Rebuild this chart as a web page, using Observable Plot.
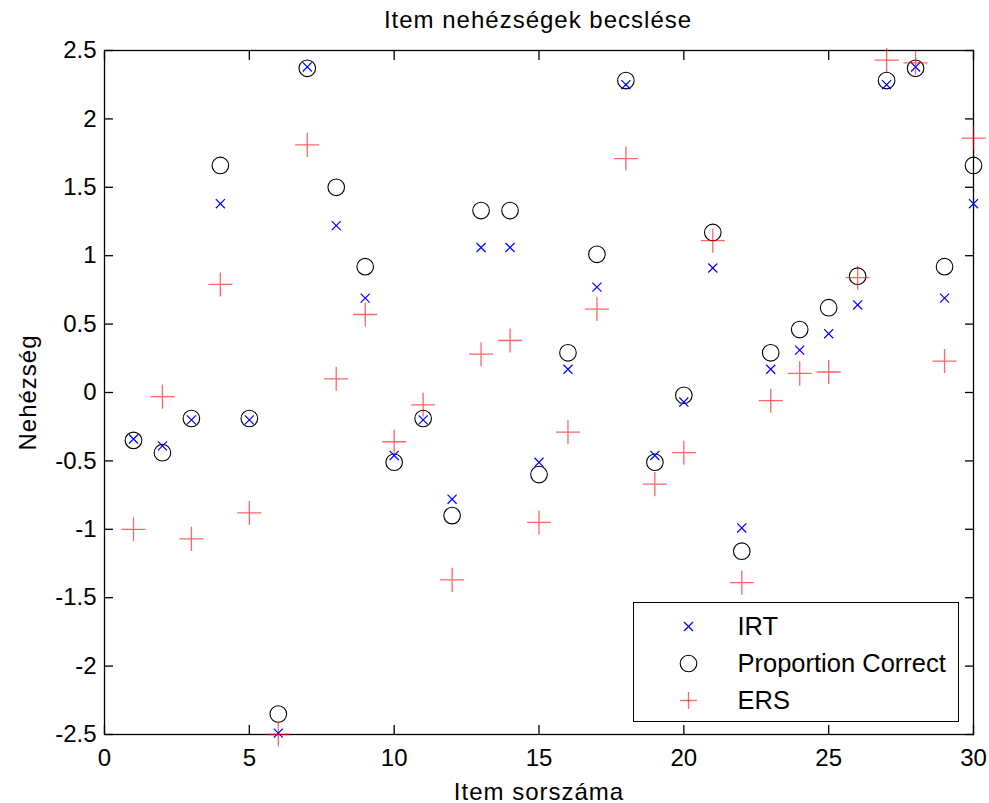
<!DOCTYPE html>
<html><head><meta charset="utf-8">
<script src="https://cdn.jsdelivr.net/npm/d3@7"></script>
<script src="https://cdn.jsdelivr.net/npm/@observablehq/plot@0.6"></script>
<style>
body{margin:0;background:#fff;font-family:Arial,"Liberation Sans",sans-serif}
#wrap{position:relative;width:989px;height:803px;background:#fff}
#title{height:25px;width:989px;position:relative;z-index:2}
#title span{position:absolute;left:538px;top:7.7px;transform:translateX(-50%);font-size:24px;line-height:1;letter-spacing:1px;white-space:nowrap;color:#000}
#chart{position:relative;z-index:1}
#legend{position:absolute;left:633px;top:602px;width:324px;height:118px;border:1.5px solid #000;background:#fff;z-index:3}
#legend svg{position:absolute;left:0;top:0}
#legend span{position:absolute;left:103.5px;font-size:25.5px;line-height:1;color:#000;white-space:nowrap}
#chart svg g[aria-label="x-axis label"] text, #chart svg g[aria-label="y-axis label"] text{letter-spacing:1px}
</style></head><body>
<div id="wrap">
<div id="title"><span>Item nehézségek becslése</span></div>
<div id="chart"></div>
<div id="legend"></div>
</div>
<script>
const items = [1,2,3,4,5,6,7,8,9,10,11,12,13,14,15,16,17,18,19,20,21,22,23,24,25,26,27,28,29,30];
const irt = [-0.34,-0.39,-0.20,1.38,-0.20,-2.49,2.38,1.22,0.69,-0.46,-0.20,-0.78,1.06,1.06,-0.51,0.17,0.77,2.25,-0.46,-0.07,0.91,-0.99,0.17,0.31,0.43,0.64,2.25,2.38,0.69,1.38];
const propCorrect = [-0.35,-0.44,-0.19,1.66,-0.19,-2.35,2.37,1.50,0.92,-0.51,-0.19,-0.90,1.33,1.33,-0.60,0.29,1.01,2.28,-0.51,-0.02,1.17,-1.16,0.29,0.46,0.62,0.85,2.28,2.37,0.92,1.66];
const ers = [-1.00,-0.03,-1.07,0.79,-0.88,-2.50,1.81,0.10,0.57,-0.36,-0.09,-1.37,0.28,0.38,-0.95,-0.29,0.61,1.71,-0.67,-0.44,1.11,-1.39,-0.06,0.14,0.15,0.84,2.43,2.41,0.23,1.86];
const xTicks = [0,5,10,15,20,25,30];
const yTicks = [-2.5,-2,-1.5,-1,-0.5,0,0.5,1,1.5,2,2.5];
const seriesNames = ["IRT","Proportion Correct","ERS"];

const rows = items.map((it,i)=>({item:it, irt:irt[i], pc:propCorrect[i], ers:ers[i]}));
const fmt = d => String(d);

const chart = Plot.plot({
  width: 989,
  height: 778,
  marginLeft: 104,
  marginRight: 16,
  marginTop: 25,
  marginBottom: 69,
  style: {fontFamily: "Arial, 'Liberation Sans', sans-serif", fontSize: "24px", color: "#000", background: "transparent"},
  x: {domain: [0, 30]},
  y: {domain: [-2.5, 2.5]},
  marks: [
    Plot.frame({stroke: "#000", strokeWidth: 1.3}),
    Plot.axisX(xTicks, {anchor: "bottom", tickSize: 0, tickPadding: 14, tickFormat: fmt, fontSize: 24, label: "Item sorszáma", labelAnchor: "center", labelOffset: 65, labelArrow: "none"}),
    Plot.axisX(xTicks, {anchor: "bottom", tickSize: -9, tickFormat: () => "", label: null, strokeWidth: 1.3}),
    Plot.axisX(xTicks, {anchor: "top", tickSize: -9, tickFormat: () => "", label: null, strokeWidth: 1.3}),
    Plot.axisY(yTicks, {anchor: "left", tickSize: 0, tickPadding: 8, tickFormat: fmt, fontSize: 24, label: "Nehézség", labelAnchor: "center", labelOffset: 86, labelArrow: "none"}),
    Plot.axisY(yTicks, {anchor: "left", tickSize: -9, tickFormat: () => "", label: null, strokeWidth: 1.3}),
    Plot.axisY(yTicks, {anchor: "right", tickSize: -9, tickFormat: () => "", label: null, strokeWidth: 1.3}),
    Plot.dot(rows, {x: "item", y: "pc", symbol: "circle", r: 8.3, stroke: "#000", fill: "none", strokeWidth: 1.1}),
    Plot.dot(rows, {x: "item", y: "irt", symbol: "times", r: 4.2, stroke: "#0000ff", strokeWidth: 1.2}),
    Plot.dot(rows, {x: "item", y: "ers", symbol: "plus", r: 7.8, stroke: "#ff0000", strokeOpacity: 0.6, strokeWidth: 1.3})
  ]
});
document.getElementById("chart").appendChild(chart);

// legend
const legend = document.getElementById("legend");
const cx = 54.5, ys = [23.5, 60.5, 97.5];
legend.innerHTML =
  `<svg width="324" height="118">
    <line x1="${cx-4.5}" y1="${ys[0]-4.5}" x2="${cx+4.5}" y2="${ys[0]+4.5}" stroke="#0000ff" stroke-width="1.2"/>
    <line x1="${cx-4.5}" y1="${ys[0]+4.5}" x2="${cx+4.5}" y2="${ys[0]-4.5}" stroke="#0000ff" stroke-width="1.2"/>
    <circle cx="${cx}" cy="${ys[1]}" r="8.3" fill="none" stroke="#000" stroke-width="1.1"/>
    <line x1="${cx-8.5}" y1="${ys[2]}" x2="${cx+8.5}" y2="${ys[2]}" stroke="#ff0000" stroke-opacity="0.6" stroke-width="1.3"/>
    <line x1="${cx}" y1="${ys[2]-8.5}" x2="${cx}" y2="${ys[2]+8.5}" stroke="#ff0000" stroke-opacity="0.6" stroke-width="1.3"/>
  </svg>` +
  seriesNames.map((n, i) => `<span style="top:${(ys[i] + 9 - 21.6).toFixed(1)}px">${n}</span>`).join("");
</script>
</body></html>
